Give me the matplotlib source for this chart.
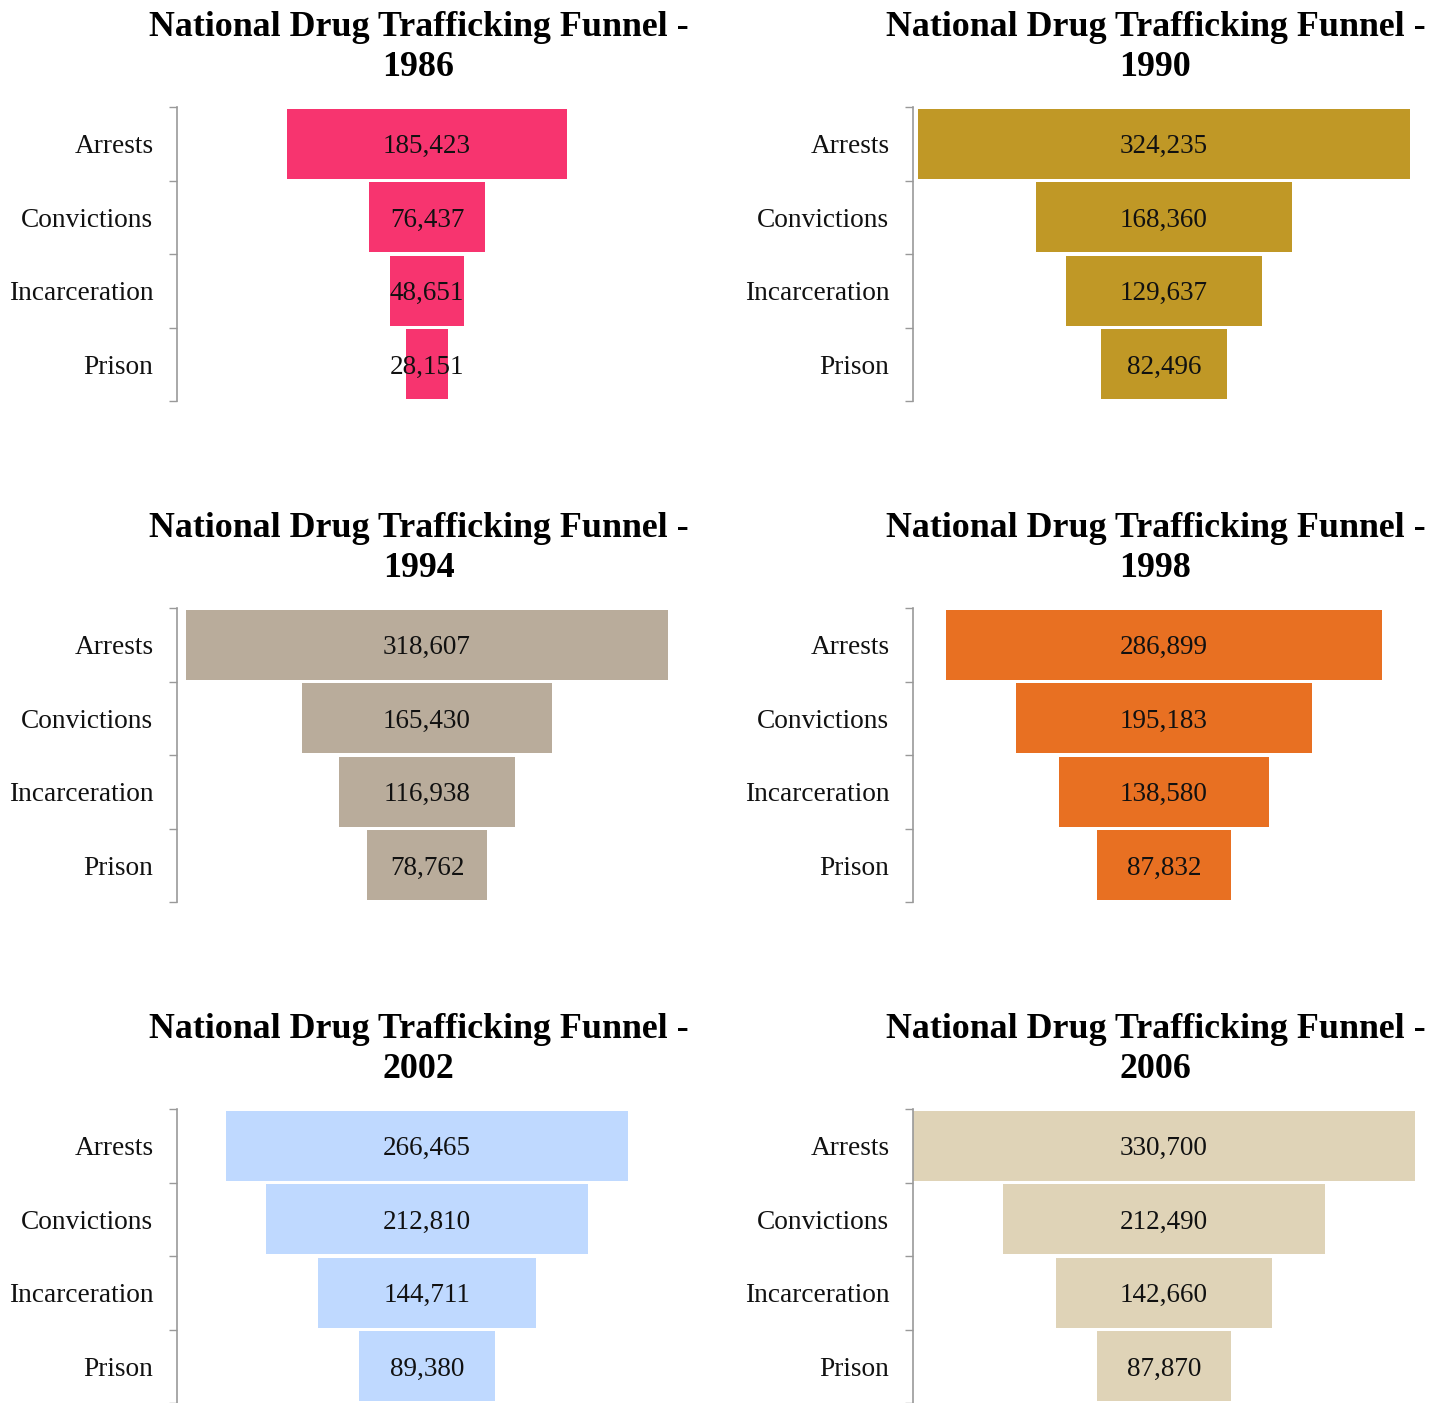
import matplotlib
matplotlib.use("Agg")
import matplotlib.pyplot as plt
import numpy as np

# stages of the funnel, top to bottom
stages = ["Arrests", "Convictions", "Incarceration", "Prison"]
years = ["1986", "1990", "1994", "1998", "2002", "2006"]

counts_1986 = [185423, 76437, 48651, 28151]
counts_1990 = [324235, 168360, 129637, 82496]
counts_1994 = [318607, 165430, 116938, 78762]
counts_1998 = [286899, 195183, 138580, 87832]
counts_2002 = [266465, 212810, 144711, 89380]
counts_2006 = [330700, 212490, 142660, 87870]

all_counts = [counts_1986, counts_1990, counts_1994,
              counts_1998, counts_2002, counts_2006]
bar_colors = ["#F7346F", "#C09826", "#B9AC9B", "#E87022", "#BFD9FF", "#DFD3B7"]

plt.rcParams["font.family"] = ["Liberation Serif", "DejaVu Serif"]

W, H = 1448, 1403
fig = plt.figure(figsize=(W / 100, H / 100), dpi=100)

# common half-width so every funnel uses the same scale
half = max(max(c) for c in all_counts) / 2.0

col_left = [177, 913]
col_width = [500, 502]
row_top = [107, 608, 1109]
ax_h = 294

for i, (year, counts, color) in enumerate(zip(years, all_counts, bar_colors)):
    r, c = divmod(i, 2)
    ax = fig.add_axes([col_left[c] / W, 1 - (row_top[r] + ax_h) / H,
                       col_width[c] / W, ax_h / H])
    y = np.arange(len(stages))
    vals = np.array(counts, dtype=float)
    ax.barh(y, vals, left=-vals / 2, height=0.955, color=color)
    for yi, v in zip(y, counts):
        ax.text(0, yi, f"{v:,}", ha="center", va="center_baseline",
                fontsize=19.5, color="#111111")

    ax.set_xlim(-half, half)
    ax.set_ylim(len(stages) - 0.5, -0.5)
    ax.set_yticks(y)
    ax.set_yticklabels(stages, fontsize=19.7, color="#111111")
    ax.set_yticks(np.arange(len(stages) + 1) - 0.5, minor=True)
    ax.tick_params(axis="y", which="major", length=0, pad=17)
    ax.tick_params(axis="y", which="minor", length=6, width=1, color="#999999")
    ax.set_xticks([])
    for s in ["top", "right", "bottom"]:
        ax.spines[s].set_visible(False)
    ax.spines["left"].set_color("#999999")
    ax.spines["left"].set_linewidth(1.2)

    ax.set_title("National Drug Trafficking Funnel -\n" + year,
                 fontsize=25.8, fontweight="bold", pad=22, x=0.483,
                 linespacing=1.3)

fig.savefig("out.png", dpi=100)
